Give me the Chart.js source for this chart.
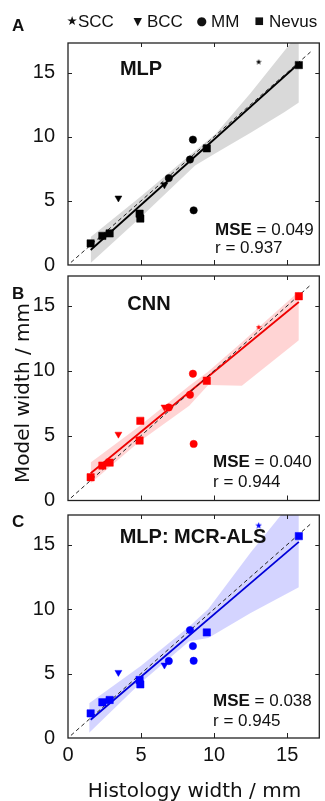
<!DOCTYPE html>
<html><head><meta charset="utf-8">
<script src="https://cdn.jsdelivr.net/npm/chart.js@4.4.1/dist/chart.umd.min.js"></script>
<style>
html,body{margin:0;padding:0;background:#fff;}
#wrap{position:relative;width:325px;height:801px;overflow:hidden;background:#fff;}
canvas{position:absolute;left:0;top:0;}
.t{position:absolute;white-space:nowrap;line-height:1;color:#111;font-family:"Liberation Sans",Arial,sans-serif;}
.d{font-family:"DejaVu Sans",sans-serif;}
.b{font-weight:bold;}
</style></head><body>
<div id="wrap">
<canvas id="cA" width="325" height="801"></canvas>
<canvas id="cB" width="325" height="801"></canvas>
<canvas id="cC" width="325" height="801"></canvas>

<div class="t b" style="font-size:17px;left:12px;top:17.2px;">A</div>
<div class="t d" style="font-size:12.5px;left:66.5px;top:14.5px;">★</div>
<div class="t" style="font-size:17px;left:78px;top:12.7px;">SCC</div>
<div class="t d" style="font-size:11px;left:133.5px;top:15.5px;">▼</div>
<div class="t" style="font-size:17px;left:147px;top:12.7px;">BCC</div>
<div class="t d" style="font-size:12px;left:196.5px;top:14.5px;">●</div>
<div class="t" style="font-size:17px;left:211px;top:12.7px;">MM</div>
<div class="t d" style="font-size:10px;left:254.5px;top:16px;">■</div>
<div class="t" style="font-size:17px;left:269px;top:12.7px;">Nevus</div>

<div class="t b" style="font-size:17px;left:12px;top:284.7px;">B</div>
<div class="t b" style="font-size:17px;left:12px;top:512.7px;">C</div>

<div class="t b" style="font-size:20px;left:141px;top:57.5px;transform:translateX(-50%);">MLP</div>
<div class="t b" style="font-size:20px;left:149px;top:293px;transform:translateX(-50%);">CNN</div>
<div class="t b" style="font-size:20px;left:193px;top:525.5px;transform:translateX(-50%);">MLP: MCR-ALS</div>

<div class="t" style="font-size:17px;left:215px;top:220.7px;"><b>MSE</b> = 0.049</div>
<div class="t" style="font-size:17px;left:215px;top:239.2px;">r = 0.937</div>
<div class="t" style="font-size:17px;left:213px;top:453.2px;"><b>MSE</b> = 0.040</div>
<div class="t" style="font-size:17px;left:213px;top:472.7px;">r = 0.944</div>
<div class="t" style="font-size:17px;left:213px;top:691.7px;"><b>MSE</b> = 0.038</div>
<div class="t" style="font-size:17px;left:213px;top:711.7px;">r = 0.945</div>

<div class="t d" style="font-size:20px;left:194.5px;top:779.7px;transform:translateX(-50%);">Histology width / mm</div>
<div class="t d" style="font-size:20px;left:21.5px;top:393px;transform:translate(-50%,-50%) rotate(-90deg);">Model width / mm</div>
</div>

<script>
// ---- axes ----
const tickValues = [0, 5, 10, 15];
const tickLabels = ['0', '5', '10', '15'];
const xMax = 17.2;
const yMax = 17.3;

// ---- histology widths (shared by all panels) ----
const sccX = [13.05];
const bccX = [3.45, 6.6];
const mmX = [6.9, 8.35, 8.55, 8.6];
const nevusX = [1.55, 2.35, 2.85, 4.9, 4.95, 9.5, 15.8];

// ---- Panel A: MLP ----
const mlpSccY = [15.84];
const mlpBccY = [5.22, 6.25];
const mlpMmY = [6.77, 8.22, 9.77, 4.26];
const mlpNevusY = [1.68, 2.27, 2.46, 4.0, 3.62, 9.09, 15.58];
const mlpRegX = [1.55, 15.8];
const mlpRegY = [1.17, 15.7];
const mlpBandX = [1.55, 5, 8.7, 10.1, 12.5, 14.8, 15.8];
const mlpBandUpper = [2.19, 5.36, 8.9, 10.2, 13.4, 16.67, 18.1];
const mlpBandLower = [0.15, 3.75, 7.75, 8.7, 10.3, 11.9, 12.66];

// ---- Panel B: CNN ----
const cnnSccY = [13.37];
const cnnBccY = [5.11, 7.2];
const cnnMmY = [7.17, 8.15, 9.77, 4.36];
const cnnNevusY = [1.79, 2.69, 2.92, 4.62, 6.14, 9.23, 15.74];
const cnnRegX = [1.55, 15.8];
const cnnRegY = [2.1, 15.3];
const cnnBandX = [1.55, 4.9, 8.3, 9.6, 11.9, 15.8];
const cnnBandUpper = [2.92, 5.75, 8.85, 9.95, 12.2, 16.1];
const cnnBandLower = [1.33, 4.55, 7.3, 8.9, 8.85, 12.35];

// ---- Panel C: MLP: MCR-ALS ----
const mcrSccY = [16.51];
const mcrBccY = [5.09, 5.66];
const mcrMmY = [5.97, 8.37, 7.13, 5.99];
const mcrNevusY = [1.91, 2.77, 2.95, 4.5, 4.16, 8.19, 15.66];
const mcrRegX = [1.55, 15.8];
const mcrRegY = [1.42, 15.22];
const mcrBandX = [1.45, 5, 8.3, 9.6, 12.5, 15.8];
const mcrBandUpper = [2.69, 5.6, 8.65, 10.0, 14.4, 19.0];
const mcrBandLower = [0.4, 4.3, 7.5, 7.75, 9.7, 11.7];

// identity line
const identityX = [0.2, 16.6];
const identityY = [0.2, 16.6];

function pts(xs, ys) { return xs.map((x, i) => ({ x: x, y: ys[i] })); }

function starImg(size, color) {
  const c = document.createElement('canvas');
  c.width = size; c.height = size;
  const g = c.getContext('2d');
  g.fillStyle = color; g.beginPath();
  const cx = size / 2, cy = size / 2 + size * 0.06, R = size / 2, r = R * 0.42;
  for (let i = 0; i < 10; i++) {
    const a = -Math.PI / 2 + i * Math.PI / 5;
    const rr = i % 2 ? r : R;
    g.lineTo(cx + rr * Math.cos(a), cy + rr * Math.sin(a));
  }
  g.closePath(); g.fill();
  return c;
}

const boxPlugin = {
  id: 'box',
  afterDatasetsDraw(chart) {
    const ctx = chart.ctx, a = chart.chartArea, xs = chart.scales.x, ys = chart.scales.y;
    ctx.save();
    ctx.strokeStyle = '#222';
    ctx.lineWidth = 1.3;
    ctx.strokeRect(a.left, a.top, a.right - a.left, a.bottom - a.top);
    ctx.lineWidth = 1;
    ctx.beginPath();
    tickValues.forEach(v => {
      if (v <= 0) return;
      const px = Math.round(xs.getPixelForValue(v)) + 0.5;
      ctx.moveTo(px, a.bottom); ctx.lineTo(px, a.bottom - 5);
      ctx.moveTo(px, a.top); ctx.lineTo(px, a.top + 4);
      const py = Math.round(ys.getPixelForValue(v)) + 0.5;
      ctx.moveTo(a.left, py); ctx.lineTo(a.left + 4, py);
      ctx.moveTo(a.right, py); ctx.lineTo(a.right - 4, py);
    });
    ctx.stroke();
    ctx.restore();
  }
};

function makeChart(id, p) {
  const tickFont = { family: 'Liberation Sans', size: 20 };
  new Chart(document.getElementById(id), {
    type: 'scatter',
    data: {
      datasets: [
        { type: 'line', data: pts(p.bandX, p.upper), showLine: true, borderWidth: 0, borderColor: 'rgba(0,0,0,0)', pointRadius: 0, fill: '+1', backgroundColor: p.bandColor, order: 10 },
        { type: 'line', data: pts(p.bandX, p.lower), showLine: true, borderWidth: 0, borderColor: 'rgba(0,0,0,0)', pointRadius: 0, fill: false, order: 9 },
        { type: 'line', data: pts(p.regX, p.regY), showLine: true, borderColor: p.lineColor, borderWidth: 1.8, pointRadius: 0, fill: false, order: 8 },
        { type: 'line', data: pts(identityX, identityY), showLine: true, borderColor: '#222', borderWidth: 1, borderDash: [4, 3], pointRadius: 0, fill: false, order: 7 },
        { label: 'Nevus', data: pts(nevusX, p.nevus), pointStyle: 'rect', pointRadius: 5.2, backgroundColor: p.color, borderColor: p.color, borderWidth: 0.5, order: 4 },
        { label: 'MM', data: pts(mmX, p.mm), pointStyle: 'circle', pointRadius: 3.7, backgroundColor: p.color, borderColor: p.color, borderWidth: 0.5, order: 3 },
        { label: 'BCC', data: pts(bccX, p.bcc), pointStyle: 'triangle', pointRotation: 180, pointRadius: 4, backgroundColor: p.color, borderColor: p.color, borderWidth: 0.5, order: 2 },
        { label: 'SCC', data: pts(sccX, p.scc), pointStyle: starImg(p.starSize, p.color), pointRadius: 3, backgroundColor: p.color, borderColor: p.color, order: 1 }
      ]
    },
    options: {
      responsive: false,
      animation: false,
      events: [],
      layout: { padding: { top: p.top, right: 3, left: 0, bottom: p.padBottom } },
      plugins: { legend: { display: false }, tooltip: { enabled: false } },
      scales: {
        x: {
          type: 'linear', min: 0, max: xMax,
          grid: { display: false, drawTicks: false },
          border: { display: false },
          ticks: { display: p.showX, padding: 5, font: tickFont, color: '#111', autoSkip: false, maxRotation: 0,
                   callback: (v) => { const i = tickValues.indexOf(v); return i >= 0 ? tickLabels[i] : ''; } },
          afterBuildTicks: (s) => { s.ticks = tickValues.map(v => ({ value: v })); },
          afterFit: (s) => { s.height = p.xh; s.paddingLeft = 0; s.paddingRight = 0; }
        },
        y: {
          type: 'linear', min: 0, max: yMax,
          grid: { display: false, drawTicks: false },
          border: { display: false },
          ticks: { padding: 13, font: tickFont, color: '#111', autoSkip: false,
                   callback: (v) => { const i = tickValues.indexOf(v); return i >= 0 ? tickLabels[i] : ''; } },
          afterBuildTicks: (s) => { s.ticks = tickValues.map(v => ({ value: v })); },
          afterFit: (s) => { s.width = 68; s.paddingTop = 0; s.paddingBottom = 0; }
        }
      }
    },
    plugins: [boxPlugin]
  });
}

makeChart('cA', {
  color: '#000', lineColor: '#000', bandColor: 'rgba(0,0,0,0.15)', starSize: 6,
  scc: mlpSccY, bcc: mlpBccY, mm: mlpMmY, nevus: mlpNevusY,
  regX: mlpRegX, regY: mlpRegY, bandX: mlpBandX, upper: mlpBandUpper, lower: mlpBandLower,
  top: 43, padBottom: 801 - 265, xh: 0, showX: false
});
makeChart('cB', {
  color: '#ff0000', lineColor: '#ee0000', bandColor: 'rgba(255,0,0,0.17)', starSize: 6,
  scc: cnnSccY, bcc: cnnBccY, mm: cnnMmY, nevus: cnnNevusY,
  regX: cnnRegX, regY: cnnRegY, bandX: cnnBandX, upper: cnnBandUpper, lower: cnnBandLower,
  top: 276, padBottom: 801 - 500.5, xh: 0, showX: false
});
makeChart('cC', {
  color: '#0000ff', lineColor: '#0000d8', bandColor: 'rgba(0,0,255,0.17)', starSize: 7,
  scc: mcrSccY, bcc: mcrBccY, mm: mcrMmY, nevus: mcrNevusY,
  regX: mcrRegX, regY: mcrRegY, bandX: mcrBandX, upper: mcrBandUpper, lower: mcrBandLower,
  top: 515, padBottom: 0, xh: 801 - 738, showX: true
});
</script>
</body></html>
